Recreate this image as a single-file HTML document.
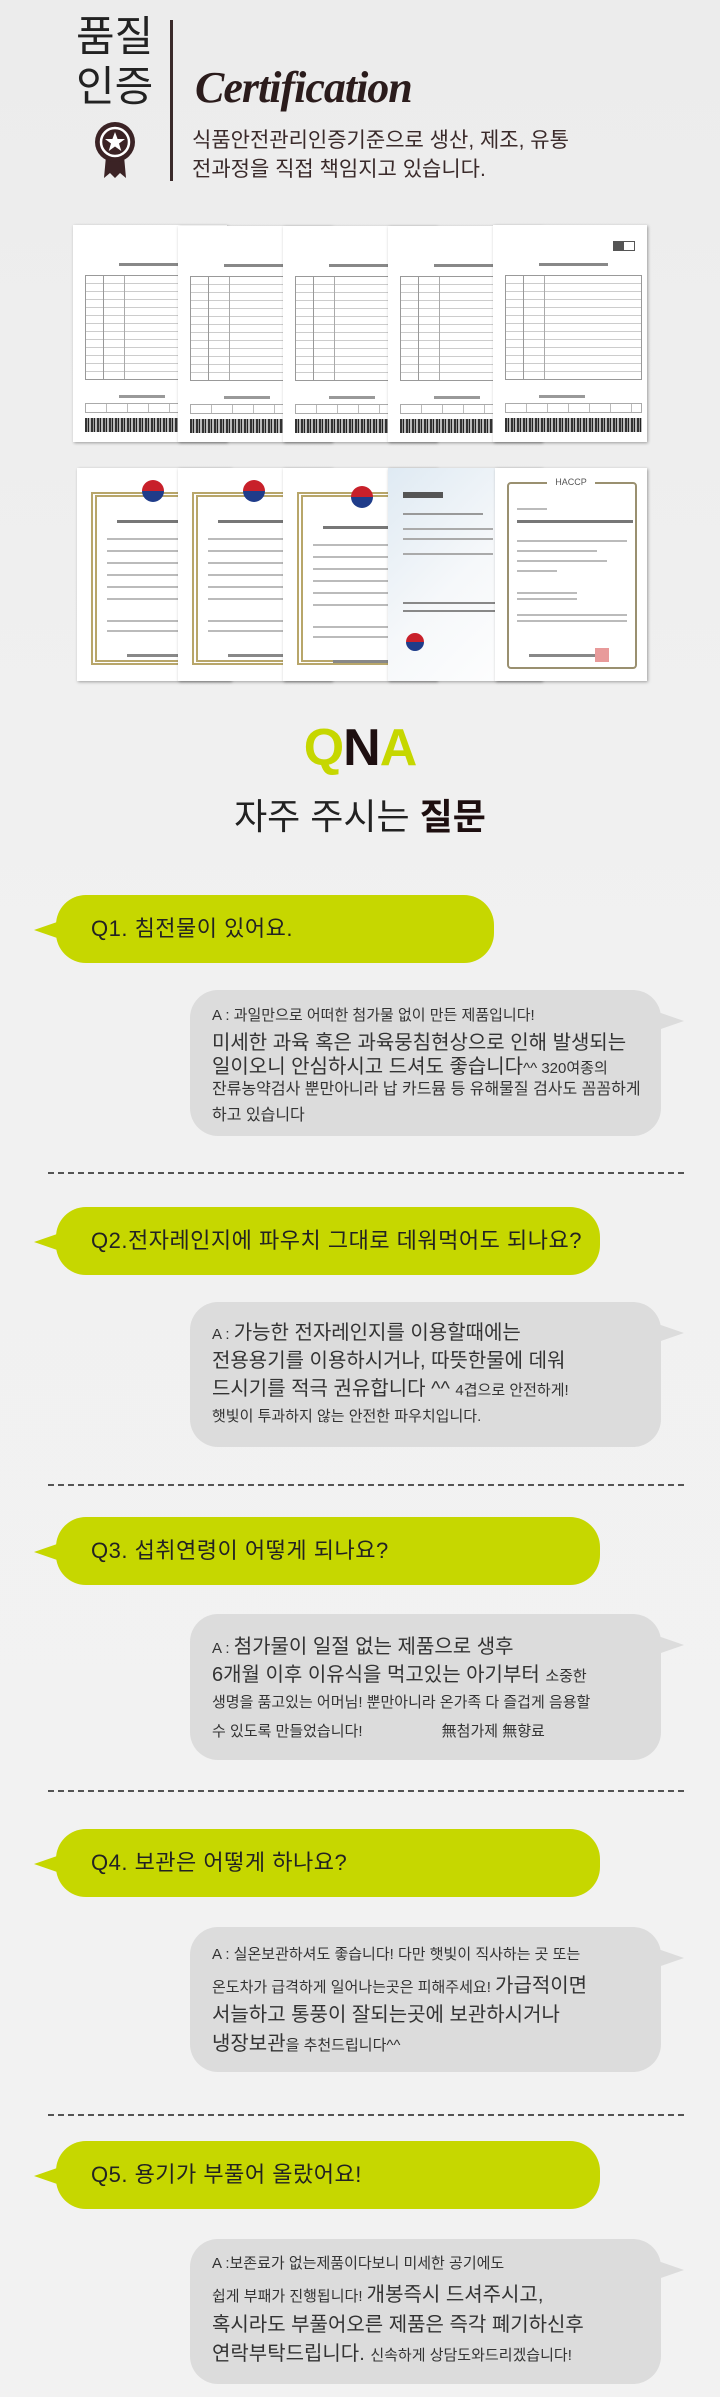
<!DOCTYPE html>
<html><head><meta charset="utf-8">
<style>
*{margin:0;padding:0;box-sizing:border-box}
body{width:720px;height:2397px;position:relative;background:linear-gradient(#ececec,#f1f1f1 40%,#f2f2f2);font-family:"Liberation Sans","Noto Sans CJK KR",sans-serif;color:#2a2222;overflow:hidden}
.a{position:absolute}
.k{font-family:"Liberation Sans","Noto Sans CJK KR",sans-serif}
.sheet{position:absolute;background:#fff;box-shadow:1px 1px 3px rgba(0,0,0,.35);overflow:hidden}
.tbl{position:absolute;left:8%;right:3%;top:50px;height:105px;border:1px solid #999;background:repeating-linear-gradient(#fff 0 7px,#ccc 7px 8px);}
.tbl:before{content:"";position:absolute;left:12%;top:0;bottom:0;width:1px;background:#999}
.tbl:after{content:"";position:absolute;left:28%;top:0;bottom:0;width:1px;background:#aaa}
.bar{position:absolute;left:8%;right:3%;top:193px;height:14px;background:repeating-linear-gradient(90deg,#333 0 2px,#999 2px 3px,#222 3px 4px,#bbb 4px 6px)}
.ttl{position:absolute;left:30%;top:38px;width:45%;height:3px;background:#888}
.sm{position:absolute;left:30%;top:170px;width:30%;height:3px;background:#999}
.st{position:absolute;left:8%;right:3%;top:178px;height:10px;border:1px solid #aaa;background:repeating-linear-gradient(90deg,#fff 0 20px,#bbb 20px 21px)}
.cert{position:absolute;background:#fff;box-shadow:1px 1px 3px rgba(0,0,0,.35);overflow:hidden}
.frame{position:absolute;left:14px;top:24px;right:0;bottom:16px;border-left:6px double #b8a66a;border-top:5px double #b8a66a;border-bottom:5px double #b8a66a}
.emb{position:absolute;left:65px;top:12px;width:22px;height:22px;border-radius:50%;background:linear-gradient(#c8202a 50%,#1f3c8a 50%)}
.cl{position:absolute;left:30px;right:4px;height:2px;background:#bbb}
.q{position:absolute;left:56px;height:68px;background:#c6d700;border-radius:30px;font-size:22px;color:#222;padding-left:35px;line-height:68px;letter-spacing:.5px}
.q:before{content:"";position:absolute;left:-22px;top:26px;border-right:26px solid #c6d700;border-top:9px solid transparent;border-bottom:9px solid transparent}
.ans{position:absolute;left:190px;width:471px;background:#dcdcdc;border-radius:28px}
.ans:after{content:"";position:absolute;right:-23px;top:22px;border-left:26px solid #dcdcdc;border-top:9px solid transparent;border-bottom:9px solid transparent}
.t{position:absolute;left:212px;height:28px;line-height:28px;white-space:nowrap;color:#333}
.s{font-size:15px}.b{font-size:20px}
.dash{position:absolute;left:48px;width:636px;height:0;border-top:2px dashed #555}
</style></head><body>

<div class="a k" style="left:76px;top:12px;font-size:42px;line-height:50px;color:#222">품질<br>인증</div>
<div class="a" style="left:170px;top:20px;width:3px;height:161px;background:#3a2a2a"></div>
<svg class="a" style="left:94px;top:122px" width="42" height="58" viewBox="0 0 42 58">
<path d="M12 34 L10 56 L16 51 L21 56 L26 51 L32 56 L30 34 Z" fill="#3b2325"/>
<circle cx="21" cy="20" r="20" fill="#3b2325"/>
<circle cx="21" cy="20" r="14" fill="none" stroke="#fff" stroke-width="2.5"/>
<polygon points="21,10 23.6,17 31,17 25,21.5 27.3,29 21,24.5 14.7,29 17,21.5 11,17 18.4,17" fill="#fff"/>
</svg>
<div class="a" style="left:195px;top:62px;font-family:'Liberation Serif',serif;font-style:italic;font-weight:bold;font-size:44px;color:#2b1c1c;letter-spacing:-1px">Certification</div>
<div class="a k" style="left:192px;top:126px;font-size:21px;line-height:29px;color:#3a2a2a">식품안전관리인증기준으로 생산, 제조, 유통<br>전과정을 직접 책임지고 있습니다.</div>

<div class="sheet" style="left:73px;top:225px;width:154px;height:217px;z-index:1"><div class="ttl"></div><div class="tbl"></div><div class="sm"></div><div class="st"></div><div class="bar"></div></div>
<div class="sheet" style="left:178px;top:226px;width:154px;height:216px;z-index:2"><div class="ttl"></div><div class="tbl"></div><div class="sm"></div><div class="st"></div><div class="bar"></div></div>
<div class="sheet" style="left:283px;top:226px;width:154px;height:216px;z-index:3"><div class="ttl"></div><div class="tbl"></div><div class="sm"></div><div class="st"></div><div class="bar"></div></div>
<div class="sheet" style="left:388px;top:226px;width:154px;height:216px;z-index:4"><div class="ttl"></div><div class="tbl"></div><div class="sm"></div><div class="st"></div><div class="bar"></div></div>
<div class="sheet" style="left:493px;top:225px;width:154px;height:217px;z-index:5"><div class="a" style="left:120px;top:16px;width:22px;height:10px;border:1px solid #555;background:linear-gradient(90deg,#555 50%,#fff 50%)"></div><div class="ttl"></div><div class="tbl"></div><div class="sm"></div><div class="st"></div><div class="bar"></div></div>

<div class="cert" style="left:77px;top:468px;width:154px;height:213px;z-index:1"><div class="frame"></div><div class="emb"></div><div class="cl" style="top:52px;left:40px;width:80px;height:3px;background:#777"></div><div class="cl" style="top:70px"></div><div class="cl" style="top:82px"></div><div class="cl" style="top:94px"></div><div class="cl" style="top:106px"></div><div class="cl" style="top:118px"></div><div class="cl" style="top:130px"></div><div class="cl" style="top:152px"></div><div class="cl" style="top:162px"></div><div class="cl" style="top:186px;left:50px;width:70px;height:3px;background:#888"></div></div>
<div class="cert" style="left:178px;top:468px;width:154px;height:213px;z-index:2"><div class="frame"></div><div class="emb"></div><div class="cl" style="top:52px;left:40px;width:80px;height:3px;background:#777"></div><div class="cl" style="top:70px"></div><div class="cl" style="top:82px"></div><div class="cl" style="top:94px"></div><div class="cl" style="top:106px"></div><div class="cl" style="top:118px"></div><div class="cl" style="top:130px"></div><div class="cl" style="top:152px"></div><div class="cl" style="top:162px"></div><div class="cl" style="top:186px;left:50px;width:70px;height:3px;background:#888"></div></div>
<div class="cert" style="left:283px;top:468px;width:154px;height:213px;z-index:3"><div class="frame"></div><div class="emb" style="left:68px;top:18px"></div><div class="cl" style="top:58px;left:40px;width:80px;height:3px;background:#777"></div><div class="cl" style="top:76px"></div><div class="cl" style="top:88px"></div><div class="cl" style="top:100px"></div><div class="cl" style="top:112px"></div><div class="cl" style="top:124px"></div><div class="cl" style="top:136px"></div><div class="cl" style="top:158px"></div><div class="cl" style="top:168px"></div><div class="cl" style="top:192px;left:50px;width:70px;height:3px;background:#888"></div></div>
<div class="cert" style="left:388px;top:468px;width:154px;height:213px;z-index:4;background:linear-gradient(135deg,#dfeaf3,#f6f8fa 50%,#fff)"><div class="cl" style="top:24px;left:15px;width:40px;height:6px;background:#555"></div><div class="cl" style="top:45px;left:15px;width:80px;background:#999"></div><div class="cl" style="top:60px;left:15px;width:90px;background:#aaa"></div><div class="cl" style="top:70px;left:15px;width:90px;background:#aaa"></div><div class="cl" style="top:85px;left:15px;width:90px;background:#aaa"></div><div class="cl" style="top:134px;left:15px;width:120px;background:#888"></div><div class="cl" style="top:142px;left:15px;width:120px;background:#888"></div><div class="a" style="left:18px;top:165px;width:18px;height:18px;border-radius:50%;background:linear-gradient(#c8202a 50%,#1f3c8a 50%)"></div><div class="a" style="left:140px;top:20px;width:24px;height:30px;border-radius:50%;background:#c9a64a"></div></div>
<div class="cert" style="left:495px;top:468px;width:152px;height:213px;z-index:5"><div class="a" style="left:12px;top:14px;right:10px;bottom:12px;border:2px solid #9a9070;border-radius:4px"></div><div class="a" style="left:52px;top:4px;width:48px;height:20px;background:#fff;font-size:9px;color:#555;text-align:center;line-height:20px">HACCP</div><div class="cl" style="top:40px;left:22px;width:30px"></div><div class="cl" style="top:52px;left:22px;right:14px;height:3px;background:#777"></div><div class="cl" style="top:72px;left:22px;right:20px"></div><div class="cl" style="top:82px;left:22px;width:80px"></div><div class="cl" style="top:92px;left:22px;width:90px"></div><div class="cl" style="top:102px;left:22px;width:40px"></div><div class="cl" style="top:124px;left:22px;width:60px"></div><div class="cl" style="top:130px;left:22px;width:60px"></div><div class="cl" style="top:146px;left:22px;right:20px"></div><div class="cl" style="top:152px;left:22px;right:20px"></div><div class="cl" style="top:186px;left:34px;width:80px;height:3px;background:#888"></div><div class="a" style="left:100px;top:180px;width:14px;height:14px;background:#e89a9a"></div></div>

<div class="a" style="left:0;width:720px;top:718px;text-align:center;font-weight:bold;font-size:52px;letter-spacing:-1px"><span style="color:#c6d700">Q</span><span style="color:#1e0f10">N</span><span style="color:#c6d700">A</span></div>
<div class="a k" style="left:0;width:720px;top:788px;text-align:center;font-size:36px;color:#222">자주 주시는 <b style="color:#1e0f10">질문</b></div>

<div class="q k" style="top:895px;width:438px">Q1. 침전물이 있어요.</div>
<div class="ans" style="top:990px;height:146px"></div>
<div class="t k s" style="top:1002px">A : 과일만으로 어떠한 첨가물 없이 만든 제품입니다!</div>
<div class="t k b" style="top:1029px">미세한 과육 혹은 과육뭉침현상으로 인해 발생되는</div>
<div class="t k b" style="top:1053px">일이오니 안심하시고 드셔도 좋습니다<span class="s">^^ 320여종의</span></div>
<div class="t k s" style="top:1076px;font-size:16px">잔류농약검사 뿐만아니라 납 카드뮴 등 유해물질 검사도 꼼꼼하게</div>
<div class="t k s" style="top:1102px;font-size:16px">하고 있습니다</div>
<div class="dash" style="top:1172px"></div>

<div class="q k" style="top:1207px;width:544px">Q2.전자레인지에 파우치 그대로 데워먹어도 되나요?</div>
<div class="ans" style="top:1302px;height:145px"></div>
<div class="t k b" style="top:1319px"><span class="s">A : </span>가능한 전자레인지를 이용할때에는</div>
<div class="t k b" style="top:1347px">전용용기를 이용하시거나, 따뜻한물에 데워</div>
<div class="t k b" style="top:1375px">드시기를 적극 권유합니다 ^^ <span class="s">4겹으로 안전하게!</span></div>
<div class="t k s" style="top:1403px">햇빛이 투과하지 않는 안전한 파우치입니다.</div>
<div class="dash" style="top:1484px"></div>

<div class="q k" style="top:1517px;width:544px">Q3. 섭취연령이 어떻게 되나요?</div>
<div class="ans" style="top:1614px;height:146px"></div>
<div class="t k b" style="top:1633px"><span class="s">A : </span>첨가물이 일절 없는 제품으로 생후</div>
<div class="t k b" style="top:1661px">6개월 이후 이유식을 먹고있는 아기부터 <span class="s">소중한</span></div>
<div class="t k s" style="top:1689px">생명을 품고있는 어머님! 뿐만아니라 온가족 다 즐겁게 음용할</div>
<div class="t k s" style="top:1718px">수 있도록 만들었습니다!&nbsp;&nbsp;&nbsp;&nbsp;&nbsp;&nbsp;&nbsp;&nbsp;&nbsp;&nbsp;&nbsp;&nbsp;&nbsp;&nbsp;&nbsp;&nbsp;&nbsp;&nbsp;&nbsp;無첨가제 無향료</div>
<div class="dash" style="top:1790px"></div>

<div class="q k" style="top:1829px;width:544px">Q4. 보관은 어떻게 하나요?</div>
<div class="ans" style="top:1927px;height:145px"></div>
<div class="t k s" style="top:1941px">A : 실온보관하셔도 좋습니다! 다만 햇빛이 직사하는 곳 또는</div>
<div class="t k s" style="top:1972px">온도차가 급격하게 일어나는곳은 피해주세요! <span class="b">가급적이면</span></div>
<div class="t k b" style="top:2001px">서늘하고 통풍이 잘되는곳에 보관하시거나</div>
<div class="t k b" style="top:2030px">냉장보관<span class="s">을 추천드립니다^^</span></div>
<div class="dash" style="top:2114px"></div>

<div class="q k" style="top:2141px;width:544px">Q5. 용기가 부풀어 올랐어요!</div>
<div class="ans" style="top:2239px;height:145px"></div>
<div class="t k s" style="top:2250px">A :보존료가 없는제품이다보니 미세한 공기에도</div>
<div class="t k s" style="top:2281px">쉽게 부패가 진행됩니다! <span class="b">개봉즉시 드셔주시고,</span></div>
<div class="t k b" style="top:2311px">혹시라도 부풀어오른 제품은 즉각 폐기하신후</div>
<div class="t k b" style="top:2340px">연락부탁드립니다. <span class="s">신속하게 상담도와드리겠습니다!</span></div>
</body></html>
